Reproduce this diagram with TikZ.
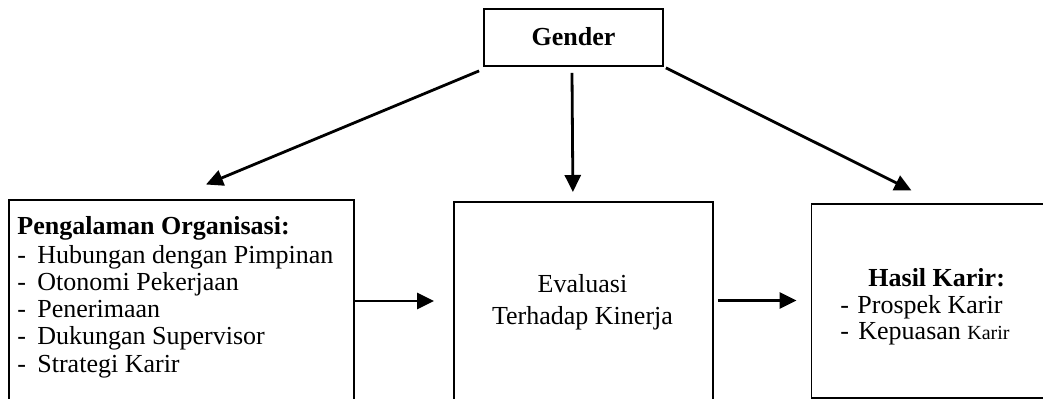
\documentclass[tikz,border=0pt]{standalone}
\usepackage{fontspec}
\setmainfont{Liberation Serif}
\usetikzlibrary{arrows.meta}
\begin{document}
\begin{tikzpicture}[x=0.5pt,y=-0.5pt,
  box/.style={draw,line width=0.9pt,inner sep=0pt,anchor=north west},
  arr/.style={line width=1.4pt,-{Triangle[length=8.5pt,width=8pt]}},
  txt/.style={inner sep=0pt,font=\fontsize{13}{15}\selectfont},
  dashitem/.style={txt,anchor=base west}]
\useasboundingbox (0,0) rectangle (1043,399);
\clip (0,0) rectangle (1043,399);
% boxes
\node[box,anchor=center,minimum width=89.5pt,minimum height=28.5pt] (g) at (573.5,37.5) {};
\node[txt,anchor=base,font=\fontsize{13}{15}\selectfont\bfseries] (gt) at (573.5,46) {Gender};
\node[box,minimum width=172.5pt,minimum height=115pt] (lb) at (8,199.5) {};
\node[box,minimum width=129.5pt,minimum height=115pt] (mb) at (453,201) {};
\node[box,minimum width=130pt,minimum height=97pt] (rb) at (810.5,203.5) {};
% left text
\node[dashitem,font=\fontsize{13}{15}\selectfont\bfseries] (l0) at (17,235) {Pengalaman Organisasi:};
\node[dashitem] (l1) at (17,264) {\makebox[10pt][l]{-}Hubungan dengan Pimpinan};
\node[dashitem] (l2) at (17,291) {\makebox[10pt][l]{-}Otonomi Pekerjaan};
\node[dashitem] (l3) at (17,318) {\makebox[10pt][l]{-}Penerimaan};
\node[dashitem] (l4) at (17,345) {\makebox[10pt][l]{-}Dukungan Supervisor};
\node[dashitem] (l5) at (17,373) {\makebox[10pt][l]{-}Strategi Karir};
% middle text
\node[txt,anchor=base] (m1) at (582.5,293) {Evaluasi};
\node[txt,anchor=base] (m2) at (582.5,325) {Terhadap Kinerja};
% right text
\node[dashitem,font=\fontsize{13}{15}\selectfont\bfseries] (r0) at (868,287) {Hasil Karir:};
\node[dashitem] (r1) at (840,314) {\makebox[8.5pt][l]{-}Prospek Karir};
\node[dashitem] (r2) at (840,340) {\makebox[9pt][l]{-}Kepuasan {\fontsize{10}{12}\selectfont Karir}};
% connectors
\coordinate (gl) at ([shift={(-4,4)}]g.south west);
\coordinate (gr) at ([shift={(2,1)}]g.south east);
\coordinate (tl) at ([shift={(198,-15)}]lb.north west);
\coordinate (tr) at ([shift={(101,-13)}]rb.north west);
\draw[arr] (gl) -- (tl);
\draw[arr] ([shift={(-1.5,6)}]g.south) -- ([shift={(-10.5,-9)}]mb.north);
\draw[arr] (gr) -- (tr);
\draw[arr] ([shift={(0,101.5)}]lb.north east) -- ([shift={(-19,100)}]mb.north west);
\draw[arr] ([shift={(4,99.5)}]mb.north east) -- ([shift={(-14,97)}]rb.north west);
\end{tikzpicture}
\end{document}
